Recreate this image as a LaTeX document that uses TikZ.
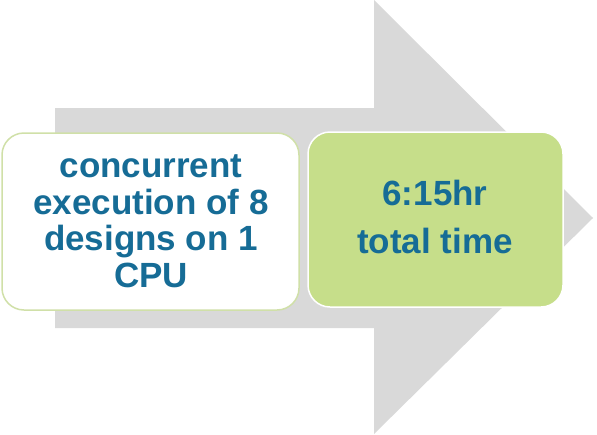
\documentclass[tikz,border=0pt]{standalone}
\usepackage{fontspec}
\setmainfont{Liberation Sans}
\definecolor{arrowgray}{RGB}{217,217,217}
\definecolor{boxgreen}{RGB}{198,222,138}
\definecolor{edgegreen}{RGB}{208,224,168}
\definecolor{textblue}{RGB}{22,108,150}
\begin{document}
\begin{tikzpicture}[x=1pt,y=-1pt,
  txt/.style={text=textblue,font=\fontsize{35}{36.5}\selectfont\bfseries,align=center},
  boxshape/.style={rounded corners=22pt,line width=1.5pt}]
\useasboundingbox (0,0) rectangle (597,434);
\fill[arrowgray] (55,108) -- (374,108) -- (374,0) -- (593,218) -- (374,434) -- (374,328) -- (55,328) -- cycle;
\draw[boxshape,fill=white,draw=edgegreen] (2,133) rectangle (299,310);
\draw[boxshape,fill=boxgreen,draw=white] (308,132) rectangle (563,307);
\node[txt] (a) at (151,221) {concurrent\\execution of 8\\designs on 1\\CPU};
\node[txt,font=\fontsize{35}{48}\selectfont\bfseries] (b) at (435,217) {6:15hr\\total time};
\end{tikzpicture}
\end{document}
